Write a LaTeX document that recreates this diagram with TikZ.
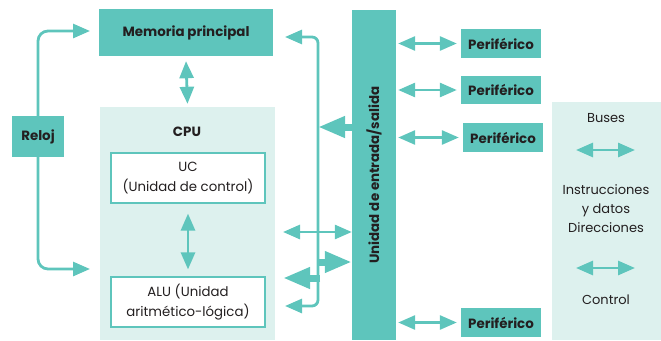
\documentclass[tikz,border=0pt]{standalone}
\usepackage{fontspec}
\setmainfont{Poppins}
\usetikzlibrary{arrows.meta,calc}
\definecolor{teal1}{HTML}{5EC5BC}
\definecolor{pale}{HTML}{DDF1EE}
\definecolor{ink}{HTML}{231F20}
\tikzset{
  tealbox/.style={fill=teal1, draw=none, text=ink, font=\bfseries\fontsize{13.4}{15}\selectfont, inner sep=0pt},
  palebox/.style={fill=pale, draw=none, inner sep=0pt},
  whitebox/.style={fill=white, draw=teal1, line width=1.2pt, text=ink, align=center, font=\fontsize{13.3}{20}\selectfont, inner sep=0pt},
  plain/.style={text=ink, align=center, font=\fontsize{13}{19}\selectfont},
  wire/.style={draw=teal1, line width=2.8pt},
  biwire/.style={wire, {Triangle[length=17pt,width=14pt]}-{Triangle[length=17pt,width=14pt]}},
  oneway/.style={wire, -{Triangle[length=17pt,width=14pt]}},
  fat/.style={draw=teal1, line width=7pt, -{Triangle[length=27pt,width=20pt]}},
}
\begin{document}
\begin{tikzpicture}[x=1pt,y=-1pt]
\useasboundingbox (0,0) rectangle (661,340);

% pale background panels
\node[palebox, minimum width=175pt, minimum height=233pt] (cpu) at (187.5,223.5) {};
\node[palebox, minimum width=109pt, minimum height=238pt] (legend) at (606.5,221) {};

% main blocks
\node[tealbox, minimum width=174pt, minimum height=47pt] (mem) at (186,32.5) {Memoria principal};
\node[tealbox, minimum width=52pt, minimum height=41pt] (reloj) at (38,136.5) {Reloj};
\node[text=ink, font=\bfseries\fontsize{13.4}{15}\selectfont] (cpulbl) at (187,132) {CPU};
\node[whitebox, minimum width=154pt, minimum height=50pt] (uc) at (188,178) {UC\\(Unidad de control)};
\node[whitebox, minimum width=154pt, minimum height=50pt] (alu) at (188,302) {ALU (Unidad\\aritmético-lógica)};
\node[tealbox, minimum width=44pt, minimum height=330pt] (io) at (374,175) {};
\node[text=ink, font=\bfseries\fontsize{13.4}{15}\selectfont, rotate=90] (iolbl) at (374,175) {Unidad de entrada/salida};

% peripherals
\node[tealbox, minimum width=80pt, minimum height=29pt] (p1) at (501,43.5) {Periférico};
\node[tealbox, minimum width=80pt, minimum height=28pt] (p2) at (501,90) {Periférico};
\node[tealbox, minimum width=80pt, minimum height=29pt] (p3) at (503,137.5) {Periférico};
\node[tealbox, minimum width=80pt, minimum height=29pt] (p4) at (501,322.5) {Periférico};

% legend
\node[plain] (lbuses) at (606,118) {Buses};
\node[plain] (ldata) at (606,209) {Instrucciones\\y datos\\Direcciones};
\node[plain] (lctrl) at (606,300) {Control};
\coordinate (la1) at (576,150);
\coordinate (lb1) at (635,150);
\coordinate (la2) at (576,268);
\coordinate (lb2) at (635,268);
\draw[biwire] (la1) -- (lb1);
\draw[biwire] (la2) -- (lb2);

% clock lines
\coordinate (clkup) at (90,31);
\coordinate (clkdn) at (90,269);
\draw[oneway, rounded corners=10pt] (reloj.north) |- (clkup);
\draw[oneway, rounded corners=10pt] (reloj.south) |- (clkdn);

% memory <-> cpu, uc <-> alu
\draw[biwire] ([yshift=-5pt]mem.south) -- ([yshift=3pt]cpu.north);
\draw[biwire] ([yshift=-10pt]uc.south) -- ([yshift=7pt]alu.north);

% system bus loop on the right of the cpu
\coordinate (memin) at (285,37);
\coordinate (bustop) at (318,37);
\coordinate (busbot) at (318,306);
\coordinate (aluin) at (285,306);
\draw[biwire, rounded corners=6pt] (memin) -- (bustop) -- (busbot) -- (aluin);

% io unit links
\coordinate (ioout) at (318,127);
\draw[fat] (io.west |- ioout) -- (ioout);
\coordinate (cpud) at (283,232);
\draw[biwire] (cpud) -- (io.west |- cpud);
\coordinate (busr) at (317,262);
\draw[fat] (busr) -- (io.west |- busr);
\coordinate (busl) at (320,278);
\coordinate (cpul) at (283,278);
\draw[fat] (busl) -- (cpul);

% peripheral links
\foreach \p in {p1,p2,p3,p4}{
  \draw[biwire] ([xshift=2pt]io.east |- \p.west) -- ([xshift=-4pt]\p.west);
}
\end{tikzpicture}
\end{document}
